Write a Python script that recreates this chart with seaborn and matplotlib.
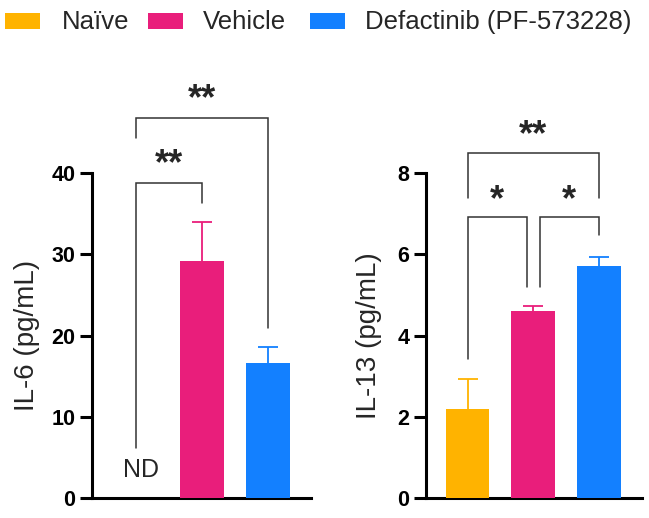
import matplotlib
matplotlib.use("Agg")
import matplotlib.pyplot as plt
import seaborn as sns
from matplotlib.patches import Rectangle

sns.set_theme(style="ticks")
plt.rcParams['font.family'] = ['Liberation Sans', 'DejaVu Sans']

groups = ["Naïve", "Vehicle", "Defactinib (PF-573228)"]
colors = ["#FFB300", "#E91E7B", "#1380FF"]

il6_mean = [0.0, 29.2, 16.6]
il6_err = [0.0, 4.8, 2.0]
il13_mean = [2.19, 4.60, 5.71]
il13_err = [0.74, 0.13, 0.23]

W, H = 649, 518
fig = plt.figure(figsize=(W / 100, H / 100), dpi=100)
ax1 = fig.add_axes([92/W, 1-498/H, (311-92)/W, (498-173)/H])
ax2 = fig.add_axes([426/W, 1-498/H, (642-426)/W, (498-173)/H])

def draw(ax, means, errs, ylim, ticks, ylabel, xlim, labelpad):
    sns.barplot(x=groups, y=means, hue=groups, palette=colors, legend=False,
                width=0.667, saturation=1, ax=ax, zorder=3, linewidth=0)
    for i, (m, e) in enumerate(zip(means, errs)):
        if m > 0:
            _, caps, _ = ax.errorbar(i, m, yerr=[[0], [e]], color=colors[i], capsize=7,
                                     elinewidth=1.3, capthick=1.3, fmt='none', zorder=2)
            caps[0].set_visible(False)
    ax.set_ylim(*ylim)
    ax.set_xlim(*xlim)
    ax.set_yticks(ticks)
    ax.set_yticklabels([str(t) for t in ticks], fontsize=15.5, fontweight='bold')
    ax.set_xticks([])
    ax.set_xlabel("")
    ax.set_ylabel(ylabel, fontsize=20, labelpad=labelpad)
    for s in ['top', 'right']:
        ax.spines[s].set_visible(False)
    for s in ['left', 'bottom']:
        ax.spines[s].set_linewidth(2.2)
        ax.spines[s].set_color('black')
    ax.tick_params(axis='y', length=9, width=2.2, pad=3, colors='black')

draw(ax1, il6_mean, il6_err, (0, 40), [0, 10, 20, 30, 40], "IL-6 (pg/mL)", (-0.667, 2.65), 8)
draw(ax2, il13_mean, il13_err, (0, 8), [0, 2, 4, 6, 8], "IL-13 (pg/mL)", (-0.634, 2.66), 11)

def bracket(ax, x1, x2, ytop, yl, yr, text, ty):
    ax.plot([x1, x1, x2, x2], [yl, ytop, ytop, yr], color='#333333', lw=1.1,
            clip_on=False, solid_joinstyle='miter')
    ax.text((x1 + x2) / 2, ty, text, ha='center', va='baseline', fontsize=26,
            fontweight='bold', clip_on=False)

bracket(ax1, 0, 1, 38.8, 6.2, 36.3, "**", 39.9)
bracket(ax1, 0, 2, 46.8, 44.3, 20.9, "**", 47.85)
ax1.text(0.08, 3.4, "ND", ha='center', va='center', fontsize=18)

bracket(ax2, 0, 0.9, 6.92, 3.42, 5.19, "*", 7.09)
bracket(ax2, 1.1, 2, 6.92, 5.19, 6.47, "*", 7.09)
bracket(ax2, 0, 2, 8.49, 7.38, 7.38, "**", 8.68)

# legend (manual placement matching reference)
patch_x = [5, 148, 310]
text_x = [62, 203, 365]
for px, tx, c, g in zip(patch_x, text_x, colors, groups):
    fig.patches.append(Rectangle((px / W, 1 - 29 / H), 35 / W, 16 / H,
                                 transform=fig.transFigure, facecolor=c,
                                 edgecolor='none'))
    fig.text(tx / W, 1 - 29.5 / H, g, fontsize=18.5, ha='left', va='baseline')

fig.savefig("out.png", dpi=100)
